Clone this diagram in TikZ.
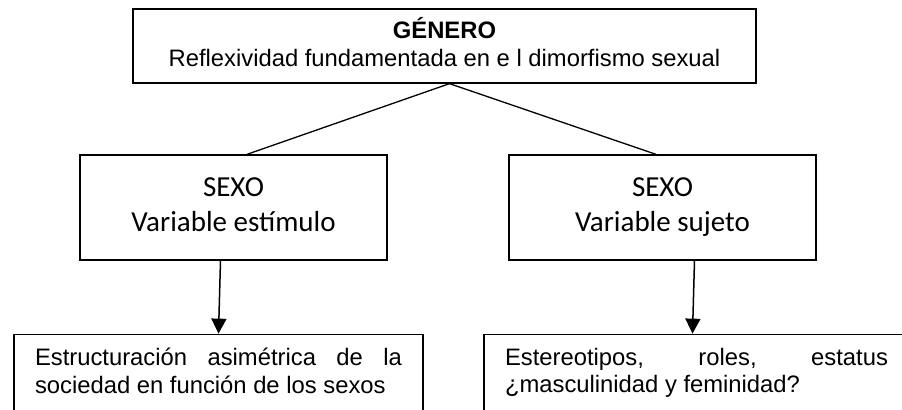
\documentclass[tikz,border=0pt]{standalone}
\usepackage{fontspec}
\setmainfont{Liberation Sans}
\newfontfamily\calibri{Carlito}
\setlength{\parindent}{0pt}
\usetikzlibrary{positioning, arrows.meta}
\tikzset{
    >={Triangle[width=7.5pt,length=7.5pt]}, % filled black arrow heads
    box/.style={draw, line width=0.65pt}, % every frame
    arialText/.style={font=\fontsize{11.9}{13.6}\selectfont},
    calibriText/.style={font=\calibri\fontsize{14.5}{17.5}\selectfont},
}

\begin{document}
\begin{tikzpicture}[
                        topBox/.style={box, arialText, align=center, minimum width=311.5pt, minimum height=37pt},
                        midBox/.style={box, calibriText, align=center, minimum width=153.5pt, minimum height=52.5pt},
                        lowBox/.style={box, arialText, align=justify, inner xsep=10.5pt, inner ysep=7pt},
                        node distance=80.75pt,
                    ]
                    \clip (0,0) rectangle (451pt,-205pt);
                    \node[topBox] (genero) at (222.25pt,-23pt) {\strut\textbf{GÉNERO}\\Reflexividad fundamentada en e l dimorfismo sexual\strut};
                    \node[midBox, below of=genero, xshift=-105.5pt] (sexoEst) {\strut SEXO\\Variable estímulo\strut};
                    \node[midBox, below of=genero, xshift=109pt] (sexoSuj) {\strut SEXO\\Variable sujeto\strut};
                    \node[lowBox, text width=183.5pt, below=36.5pt of sexoEst, xshift=-7.5pt] (estruct) {Estructuración asimétrica de la\linebreak sociedad en función de los sexos\rule[-10pt]{0pt}{10pt}};
                    \node[lowBox, text width=191.5pt, below=36.5pt of sexoSuj, xshift=17pt] (estereo) {Estereotipos, roles, estatus\linebreak ¿masculinidad y feminidad?\rule[-10pt]{0pt}{10pt}};
                    \draw[line width=0.65pt]
                    ([xshift=2.5pt]genero.south) edge ([xshift=6.75pt]sexoEst.north)
                    ([xshift=2.5pt]genero.south) edge ([xshift=-3.25pt]sexoSuj.north);
                    \draw[line width=0.75pt]
                    ([xshift=-6.5pt]sexoEst.south) edge[->] (estruct.north)
                    ([xshift=16pt]sexoSuj.south) edge[->] ([xshift=-2pt]estereo.north);
                \end{tikzpicture}
\end{document}
